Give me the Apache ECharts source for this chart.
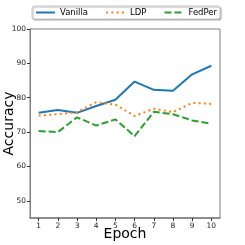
<!DOCTYPE html>
<html><head><meta charset="utf-8">
<script src="https://cdn.jsdelivr.net/npm/echarts@6/dist/echarts.min.js"></script>
<style>html,body{margin:0;padding:0;background:#fff}#c{width:245px;height:245px}</style>
</head><body><div id="c"></div>
<script>
const epochs = [1,2,3,4,5,6,7,8,9,10];
const vanilla = [75.6,76.4,75.6,77.6,79.4,84.7,82.3,82.0,86.8,89.3];
const ldp = [74.8,75.2,75.8,78.7,78.0,74.7,76.8,75.8,78.5,78.2];
const fedper = [70.3,70.0,74.3,71.9,73.7,68.8,75.9,75.2,73.4,72.4];
const yTicks = [50,60,70,80,90,100];
const xTicks = epochs;

const pairs = a => epochs.map((e,i)=>[e,a[i]]);
const chart = echarts.init(document.getElementById('c'));
const axisCol = '#7f7f7f';
chart.setOption({
  animation:false,
  textStyle:{fontFamily:'DejaVu Sans'},
  legend:{
    top:6, left:32,
    itemGap:17, itemWidth:19, itemHeight:8,
    padding:[2,3,2,3],
    borderColor:'#cccccc', borderWidth:1, borderRadius:2,
    backgroundColor:'#fff',
    shadowColor:'rgba(0,0,0,0.3)', shadowBlur:1, shadowOffsetX:1, shadowOffsetY:1,
    itemStyle:{opacity:0},
    textStyle:{fontSize:8.5, color:'#000', fontFamily:'DejaVu Sans'},
    data:['Vanilla','LDP','FedPer']
  },
  grid:{left:30, right:25, top:29, bottom:27, show:true, borderColor:axisCol, borderWidth:1,
        outerBoundsMode:'none', containLabel:false},
  xAxis:{
    type:'value', min:0.55, max:10.45,
    name:'Epoch', nameLocation:'middle', nameGap:9, nameMoveOverlap:false,
    nameTextStyle:{fontSize:14, color:'#000'},
    axisLine:{lineStyle:{color:axisCol, width:1.5}},
    axisTick:{customValues:xTicks, length:3, lineStyle:{color:'#333'}},
    axisLabel:{customValues:xTicks, fontSize:7.5, color:'#222', margin:4},
    splitLine:{show:false}
  },
  yAxis:{
    type:'value', min:45, max:100,
    name:'Accuracy', nameLocation:'middle', nameGap:14, nameMoveOverlap:false,
    nameTextStyle:{fontSize:14, color:'#000'},
    axisLine:{show:true, lineStyle:{color:axisCol, width:1}},
    axisTick:{show:true, customValues:yTicks, length:3, lineStyle:{color:'#333'}},
    axisLabel:{customValues:yTicks, fontSize:7.5, color:'#222', margin:4},
    splitLine:{show:false}
  },
  series:[
    {name:'Vanilla', type:'line', data:pairs(vanilla), symbol:'none', color:'#1f77b4',
     lineStyle:{width:2, color:'#1f77b4'}},
    {name:'LDP', type:'line', data:pairs(ldp), symbol:'none', color:'#ff7f0e',
     lineStyle:{width:2, color:'#ff7f0e', type:[2,3.3]}},
    {name:'FedPer', type:'line', data:pairs(fedper), symbol:'none', color:'#2ca02c',
     lineStyle:{width:2, color:'#2ca02c', type:[7,3]}}
  ]
});
</script></body></html>
